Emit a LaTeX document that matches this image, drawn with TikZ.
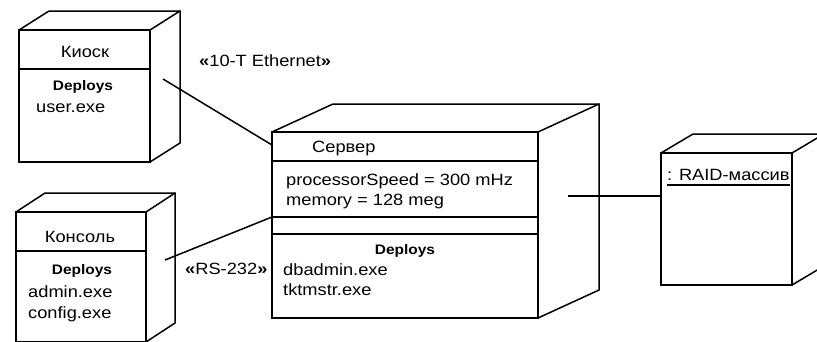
\documentclass[tikz,border=0pt]{standalone}
\usepackage{fontspec}
\setmainfont{Liberation Sans}[FakeStretch=1.12]
\usetikzlibrary{calc}
\newcommand{\regfont}{\fontsize{16.3}{19}\selectfont}
\newcommand{\depfont}{\fontsize{13.8}{16}\selectfont\bfseries}
\newcommand{\boxdepth}[3]{%
	\draw[side] (#1.north west) -- ++(#2,#3) -| ($(#1.south east)+(#2,#3)$) -- (#1.south east);
	\draw[side] (#1.north east) -- ++(#2,#3);
}
\begin{document}
\begin{tikzpicture}[x=1pt, y=-1pt, every node/.style={inner sep=0pt, font=\regfont},
	facebox/.style={draw, line width=1.9pt, outer sep=0pt, anchor=north west},
	divider/.style={line width=1.8pt},
	side/.style={line width=1.5pt},
	link/.style={line width=1.5pt},
	deploys/.style={font=\depfont, anchor=base}]
	\useasboundingbox (0,0) rectangle (817,341);
	\clip (0,0) rectangle (817,341);

	\node[facebox, minimum width=131, minimum height=132] (kiosk) at (19,30) {};
	\boxdepth{kiosk}{30}{-19}
	\draw[divider] (kiosk.west |- 0,69) -- (kiosk.east |- 0,69);
	\node[anchor=base] (kioskname) at (85,57) {Киоск};
	\node[deploys] (kioskdep) at (83,90) {Deploys};
	\node[anchor=base west] (kioskexe) at (36,112) {user.exe};

	\node[facebox, minimum width=130, minimum height=130] (console) at (16,212) {};
	\boxdepth{console}{29}{-19}
	\draw[divider] (console.west |- 0,251) -- (console.east |- 0,251);
	\node[anchor=base] (consolename) at (80,242) {Консоль};
	\node[deploys] (consoledep) at (82,274) {Deploys};
	\foreach \f/\y in {admin.exe/297, config.exe/318}
		\node[anchor=base west] (consoleexe\y) at (28,\y) {\f};

	\node[facebox, minimum width=266, minimum height=186] (server) at (272,132) {};
	\boxdepth{server}{61}{-28}
	\foreach \y in {161,217,234}
		\draw[divider] (server.west |- 0,\y) -- (server.east |- 0,\y);
	\node[anchor=base west] (servername) at (312,152) {Сервер};
	\node[anchor=base west] (speed) at (286,185) {processorSpeed = 300 mHz};
	\node[anchor=base west] (memory) at (286,205) {memory = 128 meg};
	\node[deploys] (serverdep) at (405,254) {Deploys};
	\foreach \f/\y in {dbadmin.exe/275, tktmstr.exe/295}
		\node[anchor=base west] (serverexe\y) at (283,\y) {\f};

	\node[facebox, minimum width=131, minimum height=132] (raid) at (661,153) {};
	\boxdepth{raid}{32}{-19}
	\node[anchor=base west] (raidname) at (667,180) {: RAID-массив};
	\draw[divider] ([yshift=-5pt]raidname.base west) -- ([yshift=-5pt]raidname.base east);

	\coordinate (kioskport) at (163,79);
	\coordinate (consoleport) at (165,260);
	\coordinate (serverport) at (568,196);
	\draw[link] (kioskport) -- (server.west |- 0,145);
	\draw[link] (consoleport) -- (server.west |- 0,217);
	\draw[link] (serverport) -- (raid.west |- serverport);
	\node[anchor=base west] (ethernet) at (199,66) {{\bfseries«}10-T Ethernet{\bfseries»}};
	\node[anchor=base west] (rs232) at (185,274) {{\bfseries«}RS-232{\bfseries»}};
\end{tikzpicture}
\end{document}
